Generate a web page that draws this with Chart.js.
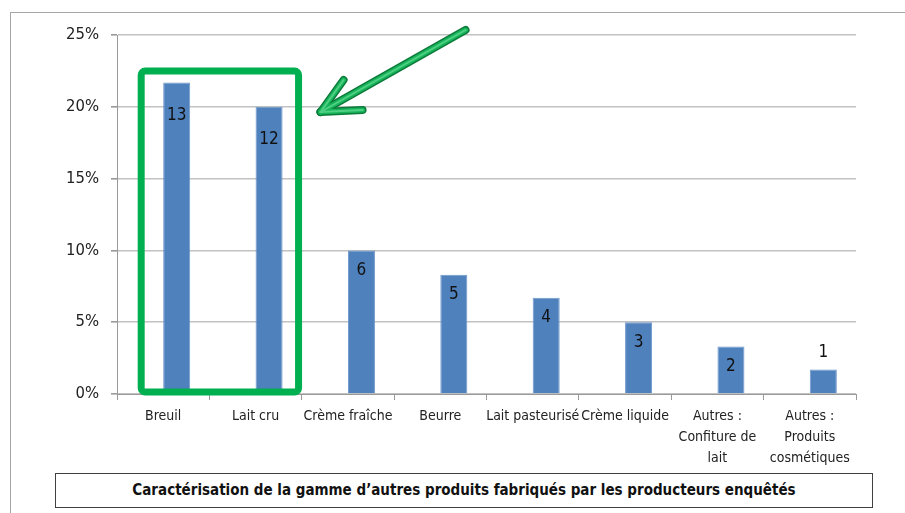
<!DOCTYPE html>
<html>
<head>
<meta charset="utf-8">
<script src="https://cdn.jsdelivr.net/npm/chart.js@4.4.0/dist/chart.umd.min.js"></script>
<style>
    body { margin: 0; background: linear-gradient(90deg, #f6f1e6 0px, #fbf9f4 10px, #fff 12px); }
    #frame { position: absolute; left: 10px; top: 12px; width: 900px; height: 510px; border: 1px solid #a6a6a6; background: #fff; }
    #chart { position: absolute; left: 0; top: 0; }
    #title {
        position: absolute; left: 55px; top: 473px; width: 816px; height: 33px;
        border: 1px solid #404040; background: #fff; color: #111;
        font: bold 15px "DejaVu Sans Condensed", sans-serif;
        text-align: center; line-height: 33px;
    }
</style>
</head>
<body>
<div id="frame"></div>
<canvas id="chart" width="905" height="513"></canvas>
<div id="title">Caractérisation de la gamme d’autres produits fabriqués par les producteurs enquêtés</div>

<script>
const categories = [
    "Breuil",
    "Lait cru",
    "Crème fraîche",
    "Beurre",
    "Lait pasteurisé",
    "Crème liquide",
    ["Autres :", "Confiture de", "lait"],
    ["Autres :", "Produits", "cosmétiques"]
];
// share of producers (%)
const percentValues = [21.7, 20, 10, 8.3, 6.7, 5, 3.3, 1.7];
// number of producers, shown on the bars
const countLabels = [13, 12, 6, 5, 4, 3, 2, 1];
// empty first series (Excel cluster leaves its slot free)
const emptySeries = [null, null, null, null, null, null, null, null];
const yTicks = [0, 5, 10, 15, 20, 25];

const FONT = '"DejaVu Sans Condensed", sans-serif';

const barLabels = {
    id: "barLabels",
    afterDatasetsDraw(chart) {
        const ctx = chart.ctx;
        const meta = chart.getDatasetMeta(1);
        ctx.save();
        ctx.font = "17px " + FONT;
        ctx.fillStyle = "#111";
        ctx.textAlign = "center";
        ctx.textBaseline = "middle";
        meta.data.forEach((bar, i) => {
            const v = percentValues[i];
            let y;
            if (v < 2) y = bar.y - 17;
            else if (v > 15) y = bar.y + 33;
            else y = bar.y + 20;
            ctx.fillText(String(countLabels[i]), bar.x, y);
        });
        ctx.restore();
    }
};

const highlight = {
    id: "highlight",
    afterDraw(chart) {
        const ctx = chart.ctx;
        const xs = chart.scales.x;
        const ys = chart.scales.y;
        const left = xs.getPixelForValue(0) - 22;
        const right = xs.getPixelForValue(1) + 43;
        const top = ys.getPixelForValue(25) + 36;
        const bottom = ys.getPixelForValue(0) - 2;

        ctx.save();
        // green box round the first two bars
        ctx.strokeStyle = "#00b050";
        ctx.lineWidth = 7;
        ctx.lineJoin = "round";
        ctx.beginPath();
        ctx.roundRect(left, top, right - left, bottom - top, 4);
        ctx.stroke();

        // arrow pointing at the box
        const tipX = right + 22, tipY = top + 41;
        const pts = [
            [[ tipX + 145, tipY - 82 ], [ tipX, tipY ]],
            [[ tipX + 23, tipY - 32 ], [ tipX, tipY ]],
            [[ tipX + 42, tipY - 2 ], [ tipX, tipY ]]
        ];
        ctx.lineCap = "round";
        [["#0b7a3a", 8], ["#18b45a", 5], ["#4fd084", 2]].forEach(([col, w]) => {
            ctx.strokeStyle = col;
            ctx.lineWidth = w;
            pts.forEach(([a, b]) => {
                ctx.beginPath();
                ctx.moveTo(a[0], a[1]);
                ctx.lineTo(b[0], b[1]);
                ctx.stroke();
            });
        });
        ctx.restore();
    }
};

new Chart(document.getElementById("chart"), {
    type: "bar",
    data: {
        labels: categories,
        datasets: [
            {
                label: "",
                data: emptySeries,
                backgroundColor: "#4f81bd",
                categoryPercentage: 0.585,
                barPercentage: 1
            },
            {
                label: "Producteurs",
                data: percentValues,
                backgroundColor: "#4f81bd",
                borderColor: "#6f98cc",
                borderWidth: 1,
                categoryPercentage: 0.585,
                barPercentage: 1
            }
        ]
    },
    options: {
        responsive: false,
        animation: false,
        layout: { padding: { left: 0, top: 35, right: 49, bottom: 0 } },
        plugins: {
            legend: { display: false },
            tooltip: { enabled: false }
        },
        scales: {
            x: {
                offset: true,
                grid: { offset: true, drawOnChartArea: false, drawTicks: true, tickLength: 6, color: "#9a9a9a" },
                border: { color: "#9a9a9a" },
                ticks: {
                    maxRotation: 0,
                    autoSkip: false,
                    padding: 6,
                    color: "#222",
                    font: { family: FONT, size: 14, lineHeight: 1.5 }
                },
                afterFit(scale) { scale.height = 119; }
            },
            y: {
                min: 0,
                max: 25,
                afterBuildTicks(scale) { scale.ticks = yTicks.map(v => ({ value: v })); },
                grid: { color: "#c2c2c2", lineWidth: 1.6, tickLength: 6, tickColor: "#9a9a9a" },
                border: { color: "#9a9a9a" },
                ticks: {
                    padding: 12,
                    color: "#222",
                    font: { family: FONT, size: 16.5 },
                    callback: v => v + "%"
                },
                afterFit(scale) { scale.width = 117; }
            }
        }
    },
    plugins: [barLabels, highlight]
});
</script>
</body>
</html>
